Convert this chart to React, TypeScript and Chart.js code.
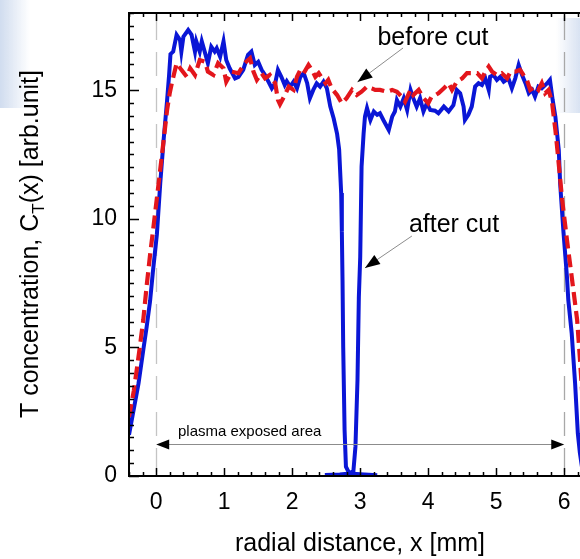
import React, { useEffect, useRef } from "react";
import { Chart, registerables } from "chart.js";

Chart.register(...registerables);

// ---- data ----
const beforeX = [
  -0.4, -0.33, -0.28, -0.24, -0.19, -0.14, -0.09, -0.04, 0.03, 0.11, 0.16, 0.2, 0.23, 0.3, 0.37, 0.45,
  0.5, 0.57, 0.64, 0.72, 0.76, 0.84, 0.91, 0.99, 1.03, 1.11, 1.21, 1.3, 1.38, 1.43, 1.48, 1.55, 1.6,
  1.67, 1.75, 1.79, 1.82, 1.89, 1.95, 2.02, 2.07, 2.12, 2.17, 2.24, 2.29, 2.34, 2.39, 2.44, 2.49, 2.53,
  2.58, 2.66, 2.73, 2.8, 2.88, 2.95, 3.02, 3.1, 3.17, 3.22, 3.29, 3.39, 3.47, 3.54, 3.61, 3.66, 3.74,
  3.78, 3.86, 3.93, 4.0, 4.05, 4.1, 4.15, 4.23, 4.3, 4.35, 4.42, 4.5, 4.57, 4.64, 4.72, 4.79, 4.84,
  4.89, 4.94, 5.01, 5.08, 5.16, 5.21, 5.28, 5.35, 5.4, 5.45, 5.5, 5.57, 5.62, 5.67, 5.72, 5.77, 5.82,
  5.84, 5.87, 5.9, 5.97, 6.04, 6.11, 6.19, 6.23, 6.27,
];
const beforeY = [
  2.3, 3.3, 4.25, 5.03, 6.07, 7.4, 8.6, 9.69, 11.25, 13.06, 14.23, 14.9, 15.27, 16.05, 15.79, 15.52,
  15.85, 15.59, 16.17, 16.1, 15.72, 15.59, 16.05, 15.85, 15.33, 15.72, 15.66, 16.05, 16.24, 15.72, 15.4,
  15.66, 15.46, 15.59, 15.27, 14.62, 14.45, 14.8, 15.14, 15.01, 15.52, 15.79, 15.66, 15.98, 15.79, 15.52,
  15.66, 15.46, 15.27, 15.4, 15.07, 14.81, 14.49, 14.69, 15.01, 14.81, 14.94, 15.14, 15.07, 15.01, 15.01,
  14.94, 15.01, 14.94, 14.75, 14.55, 15.01, 14.81, 15.01, 14.69, 14.49, 14.75, 14.8, 14.88, 15.07, 15.27,
  15.01, 15.33, 15.46, 15.66, 15.66, 15.66, 15.46, 15.72, 15.92, 15.72, 15.59, 15.66, 15.46, 15.72, 15.72,
  15.79, 15.59, 15.4, 15.01, 15.14, 15.01, 15.27, 14.88, 15.01, 14.55, 14.1, 13.45, 12.67, 10.73, 9.18,
  7.75, 6.07, 4.6, 3.0,
];

const afterX = [
  -0.4, -0.33, -0.26, -0.19, -0.14, -0.09, -0.05, 0.01, 0.06, 0.11, 0.16, 0.19, 0.21, 0.25, 0.3, 0.35,
  0.37, 0.4, 0.47, 0.52, 0.57, 0.59, 0.64, 0.67, 0.72, 0.76, 0.81, 0.86, 0.89, 0.94, 0.99, 1.03, 1.08,
  1.16, 1.21, 1.28, 1.35, 1.4, 1.45, 1.5, 1.55, 1.6, 1.65, 1.7, 1.75, 1.79, 1.84, 1.89, 1.92, 1.97, 2.02,
  2.07, 2.12, 2.17, 2.22, 2.26, 2.31, 2.36, 2.41, 2.46, 2.51, 2.56, 2.61, 2.66, 2.69, 2.72, 2.73, 2.74,
  2.75, 2.77, 2.79, 2.84, 2.9, 2.93, 2.96, 2.98, 3.0, 3.02, 3.05, 3.07, 3.1, 3.15, 3.2, 3.25, 3.29, 3.34,
  3.42, 3.47, 3.51, 3.54, 3.59, 3.64, 3.69, 3.74, 3.78, 3.83, 3.88, 3.93, 3.98, 4.03, 4.1, 4.15, 4.23,
  4.3, 4.37, 4.42, 4.47, 4.52, 4.54, 4.59, 4.64, 4.69, 4.74, 4.79, 4.84, 4.89, 4.91, 4.96, 5.01, 5.06,
  5.11, 5.18, 5.23, 5.28, 5.33, 5.38, 5.43, 5.48, 5.53, 5.57, 5.62, 5.67, 5.75, 5.79, 5.83, 5.87, 5.92,
  5.94, 5.99, 6.04, 6.06, 6.11, 6.16, 6.2, 6.23, 6.27,
];
const afterY = [
  1.6, 2.6, 3.6, 4.9, 5.8, 6.8, 7.9, 9.4, 11.4, 13.1, 14.6, 15.6, 16.4, 16.5, 17.15, 16.95, 16.5, 17.08,
  17.34, 17.15, 16.5, 16.9, 16.5, 16.9, 16.43, 16.05, 16.69, 16.5, 16.63, 16.3, 16.9, 16.17, 15.85, 15.46,
  15.52, 15.79, 16.37, 16.5, 15.98, 16.1, 15.79, 15.59, 15.33, 15.07, 15.27, 15.79, 15.52, 15.2, 15.35,
  15.14, 15.33, 15.07, 15.52, 15.66, 15.27, 14.69, 15.01, 15.27, 15.14, 15.33, 15.07, 14.36, 13.9, 13.3,
  12.7, 11.0, 9.5, 7.6, 5.0, 1.8, 0.36, 0.1, 0.2, 1.14, 3.73, 6.97, 8.5, 12.03, 13.32, 13.97, 14.3, 13.84,
  14.17, 14.04, 14.1, 13.84, 13.45, 13.97, 14.17, 14.62, 14.36, 14.69, 14.23, 15.01, 14.69, 14.36, 14.69,
  14.17, 14.49, 14.23, 14.2, 14.1, 14.36, 14.17, 14.42, 15.01, 14.88, 14.36, 13.84, 14.04, 14.36, 15.14,
  15.27, 15.2, 15.46, 15.01, 15.52, 15.59, 15.4, 15.52, 15.33, 15.46, 15.07, 15.46, 15.98, 15.59, 15.27,
  14.88, 15.01, 14.75, 15.14, 15.07, 15.27, 15.4, 14.62, 13.97, 12.67, 11.38, 9.44, 7.75, 6.84, 5.55, 3.6,
  1.66, 0.9, 0.2,
];

// short trace lying on the baseline under the cut
const baseX = [2.48, 2.7, 2.85, 3.0, 3.25];
const baseY = [0.04, 0.06, 0.1, 0.07, 0.03];

const xRange = [-0.4, 6.232];
const yRange = [0, 18];
const xTickValues = [0, 1, 2, 3, 4, 5, 6];
const yTickValues = [0, 5, 10, 15];
const xMinorStep = 0.2;
const yMinorStep = 0.5;
const guideLinesX = [0, 6];

// annotations in data units
const beforeTextPos = [4.07, 16.76];
const beforeArrow = [3.63, 16.64, 2.96, 15.32];
const afterTextPos = [4.38, 9.5];
const afterArrow = [3.76, 9.33, 3.07, 8.09];
const plasmaTextPos = [0.32, 1.56];
const plasmaArrow = [0, 6, 1.24];

const xTitle = "radial distance, x [mm]";
const yTitleParts = ["T concentration, C", "T", "(x) [arb.unit]"];

const FONT = "'Liberation Sans', Arial, Helvetica, sans-serif";

function arrowHead(ctx: CanvasRenderingContext2D, x1: number, y1: number, x2: number, y2: number, len: number, hw: number) {
  const a = Math.atan2(y2 - y1, x2 - x1);
  const c = Math.cos(a), s = Math.sin(a);
  ctx.beginPath();
  ctx.moveTo(x2, y2);
  ctx.lineTo(x2 - len * c + hw * s, y2 - len * s - hw * c);
  ctx.lineTo(x2 - len * c - hw * s, y2 - len * s + hw * c);
  ctx.closePath();
  ctx.fill();
}

const decorPlugin = {
  id: "decor",
  beforeDraw(chart: any) {
    const ctx: CanvasRenderingContext2D = chart.ctx;
    ctx.save();
    let g = ctx.createLinearGradient(0, 0, 30, 0);
    g.addColorStop(0, "rgba(200,214,236,0.85)");
    g.addColorStop(1, "rgba(200,214,236,0)");
    ctx.fillStyle = g;
    ctx.fillRect(0, 0, 30, 108);
    g = ctx.createLinearGradient(580, 0, 556, 0);
    g.addColorStop(0, "rgba(200,214,236,0.7)");
    g.addColorStop(1, "rgba(200,214,236,0)");
    ctx.fillStyle = g;
    ctx.fillRect(556, 18, 24, 95);
    ctx.restore();
  },
  beforeDatasetsDraw(chart: any) {
    const ctx: CanvasRenderingContext2D = chart.ctx;
    const xs = chart.scales.x;
    const { top, bottom } = chart.chartArea;
    ctx.save();
    ctx.lineWidth = 1.3;
    ctx.setLineDash([24, 12]);
    guideLinesX.forEach((v, i) => {
      const px = Math.round(xs.getPixelForValue(v)) + 0.5;
      ctx.strokeStyle = i === 0 ? "#c4c4c4" : "#a8a8a8";
      ctx.beginPath();
      ctx.moveTo(px, top + 3);
      ctx.lineTo(px, bottom);
      ctx.stroke();
    });
    ctx.restore();
  },
  afterDraw(chart: any) {
    const ctx: CanvasRenderingContext2D = chart.ctx;
    const xs = chart.scales.x;
    const ys = chart.scales.y;
    const { left, right, top, bottom } = chart.chartArea;
    ctx.save();
    // axis frame
    ctx.strokeStyle = "#000";
    ctx.lineWidth = 2;
    ctx.beginPath();
    ctx.moveTo(left, top);
    ctx.lineTo(right, top);
    ctx.moveTo(left, top - 1);
    ctx.lineTo(left, bottom + 1);
    ctx.moveTo(left - 1, bottom);
    ctx.lineTo(right, bottom);
    ctx.stroke();
    // inward ticks
    ctx.lineWidth = 1.5;
    ctx.beginPath();
    const i0 = Math.ceil(xs.min / xMinorStep - 1e-6);
    for (let i = i0; i * xMinorStep <= xs.max + 1e-6; i++) {
      const v = i * xMinorStep;
      const px = Math.round(xs.getPixelForValue(v)) + 0.5;
      const major = Math.abs(v - Math.round(v)) < 1e-6;
      const len = major ? 8 : 4;
      ctx.moveTo(px, bottom);
      ctx.lineTo(px, bottom - len);
      ctx.moveTo(px, top);
      ctx.lineTo(px, top + len);
    }
    for (let j = 0; j * yMinorStep <= ys.max + 1e-6; j++) {
      const v = j * yMinorStep;
      const py = Math.round(ys.getPixelForValue(v)) + 0.5;
      const major = Math.abs(v / 5 - Math.round(v / 5)) < 1e-6;
      const len = major ? 10 : 5;
      ctx.moveTo(left, py);
      ctx.lineTo(left + len, py);
    }
    ctx.stroke();

    // annotations
    ctx.fillStyle = "#000";
    ctx.font = `25px ${FONT}`;
    ctx.textAlign = "center";
    ctx.textBaseline = "alphabetic";
    ctx.fillText("before cut", xs.getPixelForValue(beforeTextPos[0]), ys.getPixelForValue(beforeTextPos[1]));
    ctx.fillText("after cut", xs.getPixelForValue(afterTextPos[0]), ys.getPixelForValue(afterTextPos[1]));
    const drawArrow = (a: number[]) => {
      const x1 = xs.getPixelForValue(a[0]), y1 = ys.getPixelForValue(a[1]);
      const x2 = xs.getPixelForValue(a[2]), y2 = ys.getPixelForValue(a[3]);
      ctx.strokeStyle = "#8c8c8c";
      ctx.lineWidth = 1;
      ctx.beginPath();
      ctx.moveTo(x1, y1);
      ctx.lineTo(x2, y2);
      ctx.stroke();
      ctx.fillStyle = "#000";
      arrowHead(ctx, x1, y1, x2, y2, 15, 5.5);
    };
    drawArrow(beforeArrow);
    drawArrow(afterArrow);

    // plasma exposed area
    ctx.font = `15px ${FONT}`;
    ctx.textAlign = "left";
    ctx.fillStyle = "#000";
    ctx.fillText("plasma exposed area", xs.getPixelForValue(plasmaTextPos[0]), ys.getPixelForValue(plasmaTextPos[1]));
    const pa = Math.round(ys.getPixelForValue(plasmaArrow[2])) + 0.5;
    const pl = xs.getPixelForValue(plasmaArrow[0]);
    const pr = xs.getPixelForValue(plasmaArrow[1]);
    ctx.strokeStyle = "#8c8c8c";
    ctx.lineWidth = 1;
    ctx.beginPath();
    ctx.moveTo(pl + 4, pa);
    ctx.lineTo(pr - 4, pa);
    ctx.stroke();
    ctx.fillStyle = "#000";
    arrowHead(ctx, pr, pa, pl, pa, 13, 5);
    arrowHead(ctx, pl, pa, pr, pa, 13, 5);

    // axis titles
    ctx.font = `25px ${FONT}`;
    ctx.textAlign = "center";
    ctx.fillText(xTitle, 360, 551);

    ctx.translate(38, 244);
    ctx.rotate(-Math.PI / 2);
    ctx.textAlign = "left";
    const mainFont = `25px ${FONT}`;
    const subFont = `17px ${FONT}`;
    ctx.font = mainFont;
    const w0 = ctx.measureText(yTitleParts[0]).width;
    const w2 = ctx.measureText(yTitleParts[2]).width;
    ctx.font = subFont;
    const w1 = ctx.measureText(yTitleParts[1]).width;
    const total = w0 + w1 + w2;
    let cx = -total / 2;
    ctx.font = mainFont;
    ctx.fillText(yTitleParts[0], cx, 0);
    cx += w0;
    ctx.font = subFont;
    ctx.fillText(yTitleParts[1], cx, 6);
    cx += w1;
    ctx.font = mainFont;
    ctx.fillText(yTitleParts[2], cx, 0);
    ctx.restore();
  },
};

const toPoints = (xs: number[], ys: number[]) => xs.map((x, i) => ({ x, y: ys[i] }));

export default function App() {
  const ref = useRef<HTMLCanvasElement>(null);
  useEffect(() => {
    document.body.style.margin = "0";
    const canvas = ref.current!;
    const chart = new Chart(canvas, {
      type: "scatter",
      data: {
        datasets: [
          {
            label: "before cut",
            data: toPoints(beforeX, beforeY),
            showLine: true,
            borderColor: "#e3161c",
            borderWidth: 4.2,
            borderDash: [13, 6],
            pointRadius: 0,
            tension: 0,
            order: 0,
          },
          {
            label: "after cut",
            data: toPoints(afterX, afterY),
            showLine: true,
            borderColor: "#0a16d6",
            borderWidth: 4,
            pointRadius: 0,
            tension: 0,
            order: 1,
          },
          {
            label: "after cut base",
            data: toPoints(baseX, baseY),
            showLine: true,
            borderColor: "#0a16d6",
            borderWidth: 4,
            pointRadius: 0,
            tension: 0,
            order: 2,
          },
        ],
      },
      options: {
        animation: false,
        responsive: false,
        events: [],
        layout: { padding: { top: 13, right: 0, left: 0, bottom: 0 } },
        plugins: { legend: { display: false }, tooltip: { enabled: false } },
        scales: {
          x: {
            type: "linear",
            min: xRange[0],
            max: xRange[1],
            grid: { display: false, drawTicks: false },
            border: { display: false },
            afterBuildTicks: (s: any) => {
              s.ticks = xTickValues.map((v) => ({ value: v }));
            },
            afterFit: (s: any) => {
              s.height = 83;
              s.paddingLeft = 0;
              s.paddingRight = 0;
            },
            ticks: {
              padding: 13,
              color: "#000",
              font: { family: FONT, size: 23 },
              callback: (v: any) => String(v),
            },
          },
          y: {
            type: "linear",
            min: yRange[0],
            max: yRange[1],
            grid: { display: false, drawTicks: false },
            border: { display: false },
            afterBuildTicks: (s: any) => {
              s.ticks = yTickValues.map((v) => ({ value: v }));
            },
            afterFit: (s: any) => {
              s.width = 129;
              s.paddingTop = 0;
              s.paddingBottom = 0;
            },
            ticks: {
              padding: 12,
              color: "#000",
              font: { family: FONT, size: 23 },
              callback: (v: any) => String(v),
            },
          },
        },
      },
      plugins: [decorPlugin],
    });
    return () => chart.destroy();
  }, []);
  return (
    <div style={{ position: "relative", width: 580, height: 559 }}>
      <canvas ref={ref} width={580} height={559} style={{ display: "block", width: 580, height: 559 }} />
    </div>
  );
}
